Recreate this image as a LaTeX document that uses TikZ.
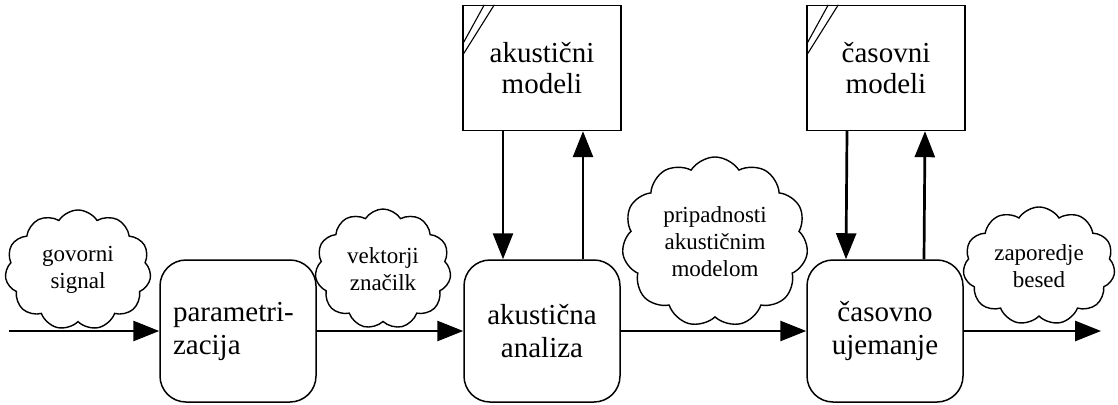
\documentclass[tikz,border=0pt]{standalone}
\usepackage{fontspec}
\setmainfont{Liberation Serif}
\usetikzlibrary{shapes.symbols,arrows.meta}

\begin{document}
\begin{tikzpicture}[x=1pt,y=-1pt,
  block/.style={draw,line width=1.5pt,rounded corners=26pt,minimum width=156pt,
    minimum height=142pt,inner sep=0pt,font=\fontsize{29}{33}\selectfont,align=center},
  store/.style={draw,line width=1.4pt,minimum width=158pt,minimum height=125pt,
    inner sep=0pt,font=\fontsize{29}{31}\selectfont,align=center},
  data/.style={cloud,draw,line width=1.4pt,cloud puffs=11,cloud puff arc=115,
    cloud ignores aspect,inner sep=0pt,font=\fontsize{23}{27}\selectfont,align=center},
  flow/.style={line width=2.7pt,-{Triangle[length=26pt,width=20pt]}},
  hatch/.style={line width=1.1pt}
]
\useasboundingbox (0,0) rectangle (1118,404);

% processing stages
\node[block,text width=130pt,align=left] (param) at (238,331) {parametri-\\zacija};
\node[block] (acan) at (542,331) {akustična\\analiza};
\node[block] (tmatch) at (885,331) {časovno\\ujemanje};

% model stores
\node[store] (amod) at (542,68) {akustični\\modeli};
\node[store] (tmod) at (886,68) {časovni\\modeli};
\foreach \s in {amod,tmod}{
  \draw[hatch] ([xshift=22pt]\s.north west) -- ([yshift=-40pt]\s.north west);
  \draw[hatch] ([xshift=32pt]\s.north west) -- ([yshift=-51pt]\s.north west);
}

% data clouds
\node[data,minimum width=146pt,minimum height=120pt] (sig) at (78,270) {govorni\\signal};
\node[data,minimum width=136pt,minimum height=120pt] (feat) at (383,269) {vektorji\\značilk};
\node[data,minimum width=186pt,minimum height=170pt] (memb) at (715,242) {pripadnosti\\akustičnim\\modelom};
\node[data,minimum width=152pt,minimum height=118pt] (words) at (1039,266) {zaporedje\\besed};

% main flow
\coordinate (in) at (9,331);
\coordinate (out) at (1101,331);
\draw[flow] (in) -- (param.west);
\draw[flow] (param.east) -- (acan.west);
\draw[flow] (acan.east) -- (tmatch.west);
\draw[flow] (tmatch.east) -- (out);

% model access
\draw[flow] ([xshift=-39pt]amod.south) -- ([xshift=-39pt]acan.north);
\draw[flow] ([xshift=41pt]acan.north) -- ([xshift=41pt]amod.south);
\draw[flow] ([xshift=-39pt]tmod.south) -- ([xshift=-39pt]tmatch.north);
\draw[flow] ([xshift=39pt]tmatch.north) -- ([xshift=39pt]tmod.south);
\end{tikzpicture}
\end{document}
